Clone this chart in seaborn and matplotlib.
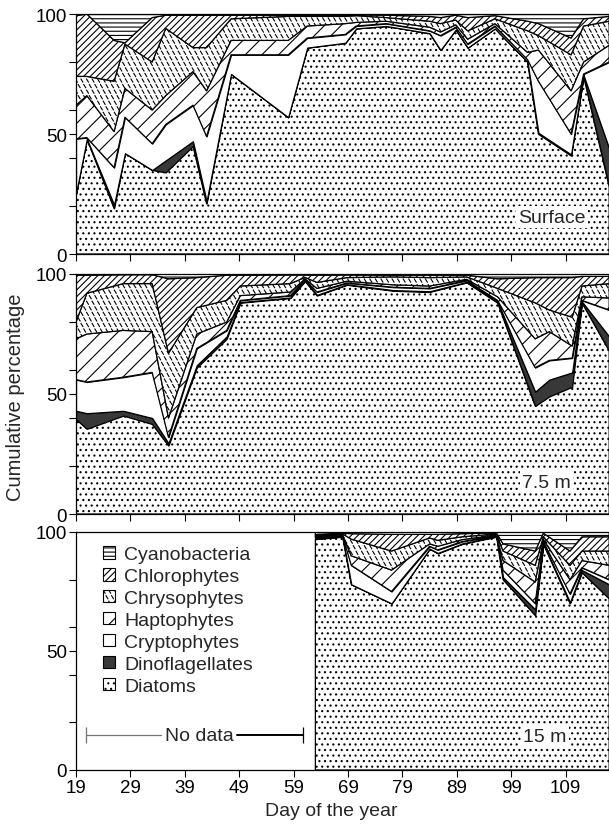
import warnings
import numpy as np
import matplotlib
matplotlib.use("Agg")
import matplotlib.pyplot as plt
import matplotlib.patches as mpatches
from matplotlib import hatch as mhatch
from matplotlib.path import Path
import seaborn as sns

warnings.filterwarnings("ignore")

# ---------------- data (cumulative percentage tops) ----------------
groups = ["Diatoms", "Dinoflagellates", "Cryptophytes", "Haptophytes",
          "Chrysophytes", "Chlorophytes", "Cyanobacteria"]

# Surface
surf_days = [19, 21, 26, 28, 33, 35.5, 40.5, 43, 47.5, 58, 61.5, 68.5, 70.5, 76, 84, 86,
             88.8, 91, 96, 102, 104, 110, 112.3, 117]
surf_diatoms = [25, 48, 19, 42, 35, 34, 45, 21, 75, 57, 86, 88, 94, 95, 92, 85,
                93.5, 86, 94, 80, 50, 41, 74, 28]
surf_dino = [25, 48, 20.5, 42, 35, 39, 47, 22, 75, 57, 86, 88, 94, 95, 92, 85,
             93.5, 86, 94, 80, 50.5, 41.5, 74.5, 44]
surf_crypto = [48, 48.5, 36, 57, 46, 54, 62, 49, 83, 83, 90, 91.5, 95, 96, 93, 91,
               94.5, 87.5, 95, 81, 72, 50, 75, 80]
surf_hapto = [62, 66, 51, 69, 60, 66, 76, 68, 89, 89, 95, 96, 96.5, 97, 94.5, 92.5,
              95.5, 89.5, 96, 84, 85, 68, 80, 87]
surf_chryso = [74, 74, 72, 87.5, 80, 94, 86, 86, 98, 99, 99, 99, 99.3, 98.5, 97, 96,
               97.5, 93, 98, 93, 91, 83, 95, 97]
surf_chloro = [99.3, 100, 89, 88, 98.5, 99.5, 99.5, 99.5, 99.5, 99.5, 99.5, 99.5, 99.7,
               99.5, 99, 98.5, 99.5, 98.5, 99.3, 97, 96, 90, 98, 99]

# 7.5 m
mid_days = [19, 21, 27.7, 33, 36, 41.2, 46.7, 49.2, 58.4, 61.1, 63.3, 68.8, 77.3, 84,
            90.8, 96.5, 103.4, 106, 110.2, 112, 117]
mid_diatoms = [39.5, 35.5, 41, 37.5, 28.5, 61, 73, 88, 90, 97, 91, 95.5, 93, 92.5,
               96.5, 88, 45, 49, 53, 88, 68]
mid_dino = [43, 42, 43, 40, 29.5, 62, 74, 88.3, 90.2, 97.2, 91.3, 95.7, 93.3, 92.8,
            96.7, 88.5, 51, 56, 59, 88.5, 74]
mid_crypto = [56, 55, 57, 59, 32, 69, 76.5, 89, 91, 97.6, 92.5, 96.3, 94.5, 94,
              97.3, 89, 61, 64, 65, 89, 85]
mid_hapto = [73, 75, 76.5, 76, 40, 75, 80, 91, 92.5, 98, 94, 97, 95.5, 95,
             97.8, 90.5, 73, 76, 70, 90.5, 90]
mid_chryso = [80, 92, 96, 96, 67, 86, 89, 95, 96, 98.6, 96.5, 98.5, 98.8, 98.5,
              98.8, 94, 88, 85, 82, 95, 96]
mid_chloro = [99.5, 99.5, 99.7, 99.7, 98, 98.5, 99.5, 99.5, 99.6, 99.6, 99.5, 99.6, 99.5,
              99.5, 99.5, 98, 98.5, 98.5, 98.5, 99, 99]

# 15 m (no data before day 63)
deep_days = [63, 68, 69.6, 77, 84, 85.5, 90, 96.3, 97.5, 103.4, 104.9, 109.8, 112, 117]
deep_diatoms = [97, 98, 78, 70, 93, 91, 95, 98, 80, 65, 95, 70, 83, 72]
deep_dino = [97.2, 98.2, 78, 70, 93, 91.2, 95.2, 98.2, 81, 67.5, 95.3, 70.5, 84, 78]
deep_crypto = [97.5, 98.5, 86, 75, 94, 92.5, 96, 98.5, 84, 70, 96, 74, 85, 80]
deep_hapto = [98, 98.8, 90, 84, 95, 94, 96.8, 98.8, 88, 79, 96.8, 80, 88, 86]
deep_chryso = [98.5, 99.2, 97, 92, 97.5, 96.5, 98, 99.2, 92, 86, 98, 86, 92, 92]
deep_chloro = [99, 99.5, 99.3, 99, 99, 99, 99.3, 99.6, 95, 92, 99.5, 92, 98, 98]

panel_labels = ["Surface", "7.5 m", "15 m"]
x_ticks = [19, 29, 39, 49, 59, 69, 79, 89, 99, 109]
nodata_start, nodata_end, nodata_level = 20.8, 60.7, 14.7

# ---------------- custom dashed hatch for chrysophytes ----------------
class _DashHatch(mhatch.HatchPatternBase):
    def __init__(self, hatch, density):
        self.n = int(hatch.count("d") * density)
        self.num_vertices = 2 * self.n * self.n

    def set_vertices_and_codes(self, vertices, codes):
        n = self.n
        s = 1.0 / n
        k = 0
        for i in range(n):
            for j in range(n):
                xc = (j + 0.25 + 0.5 * (i % 2)) * s
                yc = (i + 0.5) * s
                vertices[k] = (xc - 0.17 * s, yc + 0.28 * s)
                vertices[k + 1] = (xc + 0.17 * s, yc - 0.28 * s)
                codes[k] = Path.MOVETO
                codes[k + 1] = Path.LINETO
                k += 2

try:
    if _DashHatch not in mhatch._hatch_types:
        mhatch._hatch_types.append(_DashHatch)
    chryso_hatch = "ddd"
except Exception:
    chryso_hatch = "\\\\\\"

styles = {
    "Diatoms": dict(fc="white", hatch="..."),
    "Dinoflagellates": dict(fc="0.22", hatch=None),
    "Cryptophytes": dict(fc="white", hatch=None),
    "Haptophytes": dict(fc="white", hatch="//"),
    "Chrysophytes": dict(fc="white", hatch=chryso_hatch),
    "Chlorophytes": dict(fc="white", hatch="/////"),
    "Cyanobacteria": dict(fc="white", hatch="----"),
}

# ---------------- styling ----------------
sns.set_theme(style="ticks")
plt.rcParams["font.family"] = ["Liberation Sans", "DejaVu Sans"]
plt.rcParams["hatch.linewidth"] = 0.8
plt.rcParams["axes.edgecolor"] = "black"
plt.rcParams["axes.linewidth"] = 0.9
plt.rcParams["xtick.color"] = "black"
plt.rcParams["ytick.color"] = "black"

fig = plt.figure(figsize=(6.09, 8.28), dpi=100)
left, width = 76 / 609, 538.6 / 609
rects = [(left, 1 - 255 / 828, width, 240 / 828),
         (left, 1 - 515 / 828, width, 240 / 828),
         (left, 1 - 771 / 828, width, 238 / 828)]
axes = [fig.add_axes(r) for r in rects]

panels = [
    (surf_days, [surf_diatoms, surf_dino, surf_crypto, surf_hapto, surf_chryso, surf_chloro]),
    (mid_days, [mid_diatoms, mid_dino, mid_crypto, mid_hapto, mid_chryso, mid_chloro]),
    (deep_days, [deep_diatoms, deep_dino, deep_crypto, deep_hapto, deep_chryso, deep_chloro]),
]

def to_shares(cums):
    n = len(cums[0])
    arr = np.vstack([np.zeros(n)] + [np.asarray(c, float) for c in cums] + [np.full(n, 100.0)])
    return np.diff(arr, axis=0)

label_pos = [(0.884, 0.154), (0.873, 0.133), (0.871, 0.139)]

for i, (ax, (days, cums)) in enumerate(zip(axes, panels)):
    shares = to_shares(cums)
    colls = ax.stackplot(days, *shares,
                         colors=[styles[g]["fc"] for g in groups],
                         edgecolor="black", linewidth=0.9)
    for coll, g in zip(colls, groups):
        if styles[g]["hatch"]:
            coll.set_hatch(styles[g]["hatch"])
    ax.set_xlim(19, 118)
    ax.set_ylim(0, 100)
    ax.set_yticks([0, 50, 100])
    ax.set_yticks([20, 40, 60, 80], minor=True)
    ax.set_xticks(x_ticks)
    ax.tick_params(axis="both", which="both", direction="out", length=5, width=0.8,
                   labelsize=13.5, pad=1.5)
    if i < 2:
        ax.set_xticklabels([])
    ax.text(*label_pos[i], panel_labels[i], transform=ax.transAxes, ha="center",
            va="center", fontsize=14,
            bbox=dict(facecolor="white", edgecolor="none", pad=1.5))
    for sp in ax.spines.values():
        sp.set_visible(True)

ax3 = axes[2]
# "No data" bracket
ax3.plot([nodata_start, 34.6], [nodata_level, nodata_level], color="0.45", lw=0.9)
ax3.plot([48.6, nodata_end], [nodata_level, nodata_level], color="black", lw=1.4)
ax3.plot([nodata_start], [nodata_level], marker="|", ms=11, mew=0.9, color="0.45")
ax3.plot([nodata_end], [nodata_level], marker="|", ms=11, mew=0.9, color="black")
ax3.text((34.6 + 48.6) / 2, nodata_level, "No data", ha="center", va="center", fontsize=14)

# legend
handles = [mpatches.Patch(facecolor=styles[g]["fc"], edgecolor="black",
                          hatch=styles[g]["hatch"], linewidth=0.8, label=g)
           for g in groups[::-1]]
ax3.legend(handles=handles, loc="upper left", bbox_to_anchor=(0.05, 0.94),
           frameon=False, fontsize=14, handlelength=0.6, handleheight=0.6,
           handletextpad=0.5, labelspacing=0.25, borderpad=0, borderaxespad=0)

fig.text(15.5 / 609, 1 - 397 / 828, "Cumulative percentage", rotation=90,
         ha="center", va="center", fontsize=14.5)
fig.text(331 / 609, 1 - 812 / 828, "Day of the year", ha="center", va="center",
         fontsize=14)

fig.savefig("out.png", dpi=100)
